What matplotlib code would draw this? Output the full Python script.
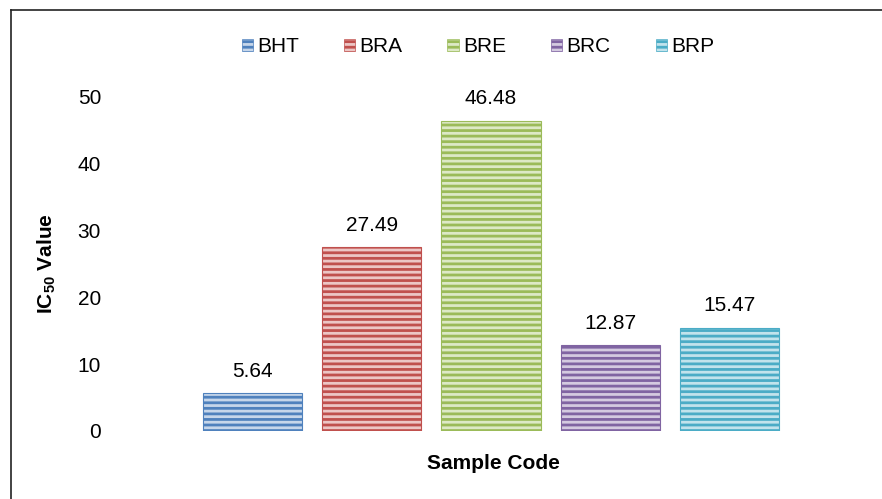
import matplotlib
matplotlib.use('Agg')
import matplotlib.pyplot as plt
from matplotlib.patches import Patch
from matplotlib.lines import Line2D

# Daten
samples = ['BHT', 'BRA', 'BRE', 'BRC', 'BRP']
ic50 = [5.64, 27.49, 46.48, 12.87, 15.47]
dark = ['#4f81bd', '#c0504d', '#9bbb59', '#8064a2', '#4bacc6']
light = ['#c6d6ea', '#ecc6c5', '#dde9c6', '#d4cae0', '#c2e3ec']
yticks = [0, 10, 20, 30, 40, 50]

plt.rcParams['font.family'] = ['Liberation Sans', 'DejaVu Sans']
plt.rcParams['mathtext.fontset'] = 'custom'
plt.rcParams['mathtext.rm'] = 'Liberation Sans'
plt.rcParams['mathtext.bf'] = 'Liberation Sans:bold'
plt.rcParams['hatch.linewidth'] = 2.0

W, H = 882, 499
L, R, T, B = 108, 850, 97, 431
fig = plt.figure(figsize=(W / 100, H / 100), dpi=100)
ax = fig.add_axes([L / W, 1 - B / H, (R - L) / W, (B - T) / H])

x = list(range(len(samples)))
ax.bar(x, ic50, width=99 / 119, color=light, edgecolor=dark,
       hatch='---', linewidth=0.8)

for xi, v in zip(x, ic50):
    ax.annotate('{:.2f}'.format(v), (xi, v), xytext=(0, 9),
                textcoords='offset points', ha='center', va='bottom',
                fontsize=15, annotation_clip=False)

ax.set_xlim(-(252.5 - L) / 119, 4 + (R - 729.5) / 119)
ax.set_ylim(0, 50)
ax.set_yticks(yticks)
ax.set_xticks([])
ax.tick_params(axis='y', length=0, labelsize=15, pad=5)
for s in ax.spines.values():
    s.set_visible(False)

ax.set_ylabel(r'IC$_{\mathbf{50}}$ Value', fontsize=15, fontweight='bold')
ax.yaxis.set_label_coords((58 - L) / (R - L), (B - 264) / (B - T))
ax.set_xlabel('Sample Code', fontsize=15, fontweight='bold')
ax.xaxis.set_label_coords((493 - L) / (R - L), -(454 - B) / (B - T))

handles = [Patch(facecolor=l, edgecolor=d, hatch='---', linewidth=0.5)
           for l, d in zip(light, dark)]
fig.legend(handles, samples, ncol=5, loc='center', bbox_to_anchor=(478 / W, 1 - 47 / H),
           frameon=False, fontsize=15, handlelength=0.55, handleheight=0.55,
           handletextpad=0.2, columnspacing=2.15)

# Rahmen (nur links und oben sichtbar)
fig.add_artist(Line2D([11 / W, 1], [1 - 9.5 / H, 1 - 9.5 / H], color='#222222', lw=1.2))
fig.add_artist(Line2D([11 / W, 11 / W], [0, 1 - 9.5 / H], color='#222222', lw=1.2))

fig.savefig('out.png', dpi=100)
